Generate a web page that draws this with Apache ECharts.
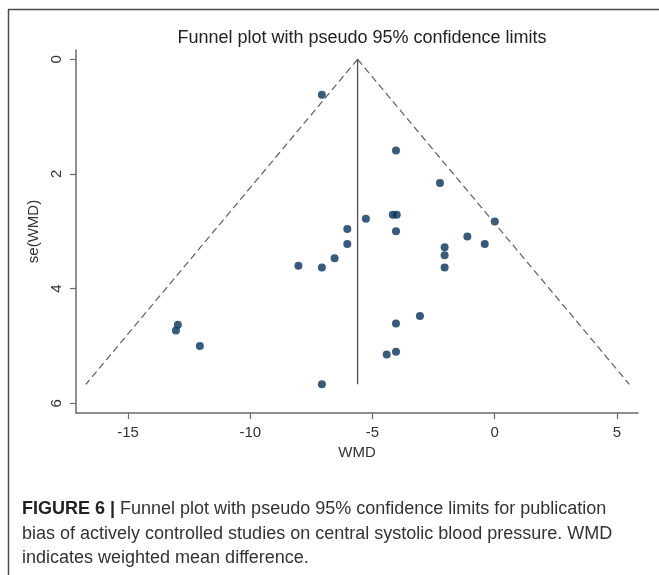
<!DOCTYPE html>
<html>
<head>
<meta charset="utf-8">
<script src="https://cdn.jsdelivr.net/npm/echarts@6/dist/echarts.min.js"></script>
<style>
html,body{margin:0;padding:0;background:#fff;}
#chart{width:659px;height:575px;}
</style>
</head>
<body>
<div id="chart"></div>
<script>
// Study effect sizes (WMD) and standard errors
var wmd = [-7.07,-4.04,-2.24,-5.27,-4.17,-4.01,-4.04,0.00,-1.12,-0.41,-2.05,-2.05,-2.05,
           -6.03,-6.03,-6.55,-7.07,-8.03,-12.96,-13.04,-12.06,-7.07,-3.06,-4.04,-4.04,-4.42];
var se  = [0.62,1.59,2.16,2.78,2.71,2.71,3.00,2.83,3.09,3.22,3.28,3.42,3.63,
           2.96,3.22,3.47,3.63,3.60,4.63,4.73,5.00,5.67,4.48,4.61,5.10,5.15];
var pooled = -5.61;     // pooled estimate (vertical line)
var seMax = 5.67;       // largest standard error (end of funnel)
var z95 = 1.96;
var xTicks = [-15,-10,-5,0,5];
var yTicks = [0,2,4,6];

var points = wmd.map(function(v,i){return [v, se[i]];});
var leftLimit = [[pooled,0],[pooled - z95*seMax, seMax]];
var rightLimit = [[pooled,0],[pooled + z95*seMax, seMax]];
var pooledLine = [[pooled,0],[pooled,seMax]];

var chart = echarts.init(document.getElementById('chart'), null, {renderer:'canvas'});
var axisColor = '#6a6a6a';
var lbl = '#333';
var capFont = 'Liberation Sans';
var option = {
  backgroundColor:'#fff',
  animation:false,
  title:{
    text:'Funnel plot with pseudo 95% confidence limits',
    left:357, top:24, textAlign:'center',
    textStyle:{fontFamily:'Liberation Sans', fontSize:18, fontWeight:'normal', color:'#222'}
  },
  grid:{left:76, right:21, top:50, bottom:162},
  xAxis:{
    type:'value', min:-17.127, max:5.859,
    name:'WMD', nameLocation:'middle', nameGap:28,
    nameTextStyle:{fontFamily:'Liberation Sans', fontSize:15, color:lbl},
    axisLine:{onZero:false, lineStyle:{color:axisColor, width:1.5}},
    axisTick:{show:true, length:6, customValues:xTicks, lineStyle:{color:axisColor, width:1.2}},
    axisLabel:{customValues:xTicks, margin:12, fontFamily:'Liberation Sans', fontSize:15, color:lbl},
    splitLine:{show:false}
  },
  yAxis:{
    type:'value', inverse:true, min:-0.162, max:6.17,
    name:'se(WMD)', nameLocation:'middle', nameGap:29, nameRotate:90,
    nameTextStyle:{fontFamily:'Liberation Sans', fontSize:15, color:lbl},
    axisLine:{onZero:false, lineStyle:{color:axisColor, width:1.5}},
    axisTick:{show:true, length:6, customValues:yTicks, lineStyle:{color:axisColor, width:1.2}},
    axisLabel:{customValues:yTicks, rotate:90, margin:12, fontFamily:'Liberation Sans', fontSize:15, color:lbl},
    splitLine:{show:false}
  },
  series:[
    {type:'line', data:leftLimit, symbol:'none', silent:true,
     lineStyle:{color:'#5e5e5e', width:1.2, type:[7,4]}},
    {type:'line', data:rightLimit, symbol:'none', silent:true,
     lineStyle:{color:'#5e5e5e', width:1.2, type:[7,4]}},
    {type:'line', data:pooledLine, symbol:'none', silent:true,
     lineStyle:{color:'#505050', width:1.3}},
    {type:'scatter', data:points, symbol:'circle', symbolSize:8,
     itemStyle:{color:'#06325d'}}
  ],
  graphic:[
    {type:'line', shape:{x1:8, y1:9.5, x2:659, y2:9.5}, style:{stroke:'#4a4a4a', lineWidth:1.5}},
    {type:'line', shape:{x1:8.5, y1:9, x2:8.5, y2:575}, style:{stroke:'#4a4a4a', lineWidth:1.5}},
    {type:'text', left:22, top:500,
     style:{text:'{b|FIGURE 6 |} Funnel plot with pseudo 95% confidence limits for publication',
            fontFamily:capFont, fontSize:18, fill:'#333',
            rich:{b:{fontWeight:'bold', fontFamily:capFont, fontSize:18, fill:'#222'}}}},
    {type:'text', left:22, top:525,
     style:{text:'bias of actively controlled studies on central systolic blood pressure. WMD',
            fontFamily:capFont, fontSize:18, fill:'#333'}},
    {type:'text', left:22, top:549,
     style:{text:'indicates weighted mean difference.',
            fontFamily:capFont, fontSize:18, fill:'#333'}}
  ]
};
chart.setOption(option);
</script>
</body>
</html>
